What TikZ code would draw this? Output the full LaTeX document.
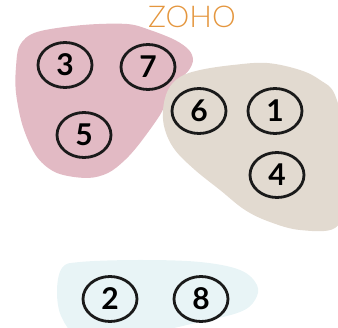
\documentclass[tikz,border=0pt]{standalone}
\usepackage{fontspec}
\usepackage{tikz}
\usetikzlibrary{shapes.geometric}
\newfontfamily\zohofont{Lato}[UprightFont={* Light}]
\newfontfamily\numfont{Lato}[BoldFont={* Bold}]
\definecolor{pinkblob}{RGB}{226,186,196}
\definecolor{beigeblob}{RGB}{226,218,208}
\definecolor{blueblob}{RGB}{232,244,246}
\definecolor{zohoorange}{RGB}{228,150,62}
\definecolor{ringline}{RGB}{26,26,26}

\begin{document}
\begin{tikzpicture}[x=1pt,y=-1pt]
                      \tikzstyle{item}=[ellipse,line width=2.8pt,draw=ringline,inner sep=0pt,minimum width=54pt,minimum height=45pt,font=\numfont\bfseries\fontsize{30}{30}\selectfont]
                      \useasboundingbox (0,0) rectangle (338,328);
                      \clip (0,0) rectangle (338,328);
                      % blobs
                      \fill[pinkblob] plot[smooth cycle, tension=0.55] coordinates {(16,67) (20,45) (37,32) (83,25) (127,24) (150,30) (175,40) (189,50) (193,60) (189,70) (178,82) (168,98) (160,115) (140,143) (125,160) (108,173) (87,178) (57,173) (37,157) (23,127) (16,93)};
                      \fill[beigeblob] plot[smooth cycle, tension=0.6] coordinates {(180,77) (200,70) (233,65) (267,63) (300,70) (320,80) (335,95) (345,140) (345,200) (335,228) (300,230) (270,222) (245,210) (220,190) (195,170) (175,150) (165,130) (163,110) (168,90)};
                      \fill[blueblob] plot[smooth cycle, tension=0.6] coordinates {(62,268) (80,262) (140,260) (200,262) (240,270) (257,285) (255,300) (240,312) (200,322) (140,334) (80,334) (62,318) (57,292)};
                      \node[text=zohoorange,font=\zohofont\fontsize{30}{30}\selectfont] (zoho) at (192,17) {ZOHO};
                      % numbered rings
                      \node[item] (n3) at (65,65) {3};
                      \node[item] (n7) at (148,67) {7};
                      \node[item] (n5) at (84,135) {5};
                      \node[item] (n6) at (199,111) {6};
                      \node[item] (n1) at (275,111) {1};
                      \node[item] (n4) at (277,175) {4};
                      \node[item] (n2) at (110,299) {2};
                      \node[item] (n8) at (201,299) {8};
                  \end{tikzpicture}
\end{document}
